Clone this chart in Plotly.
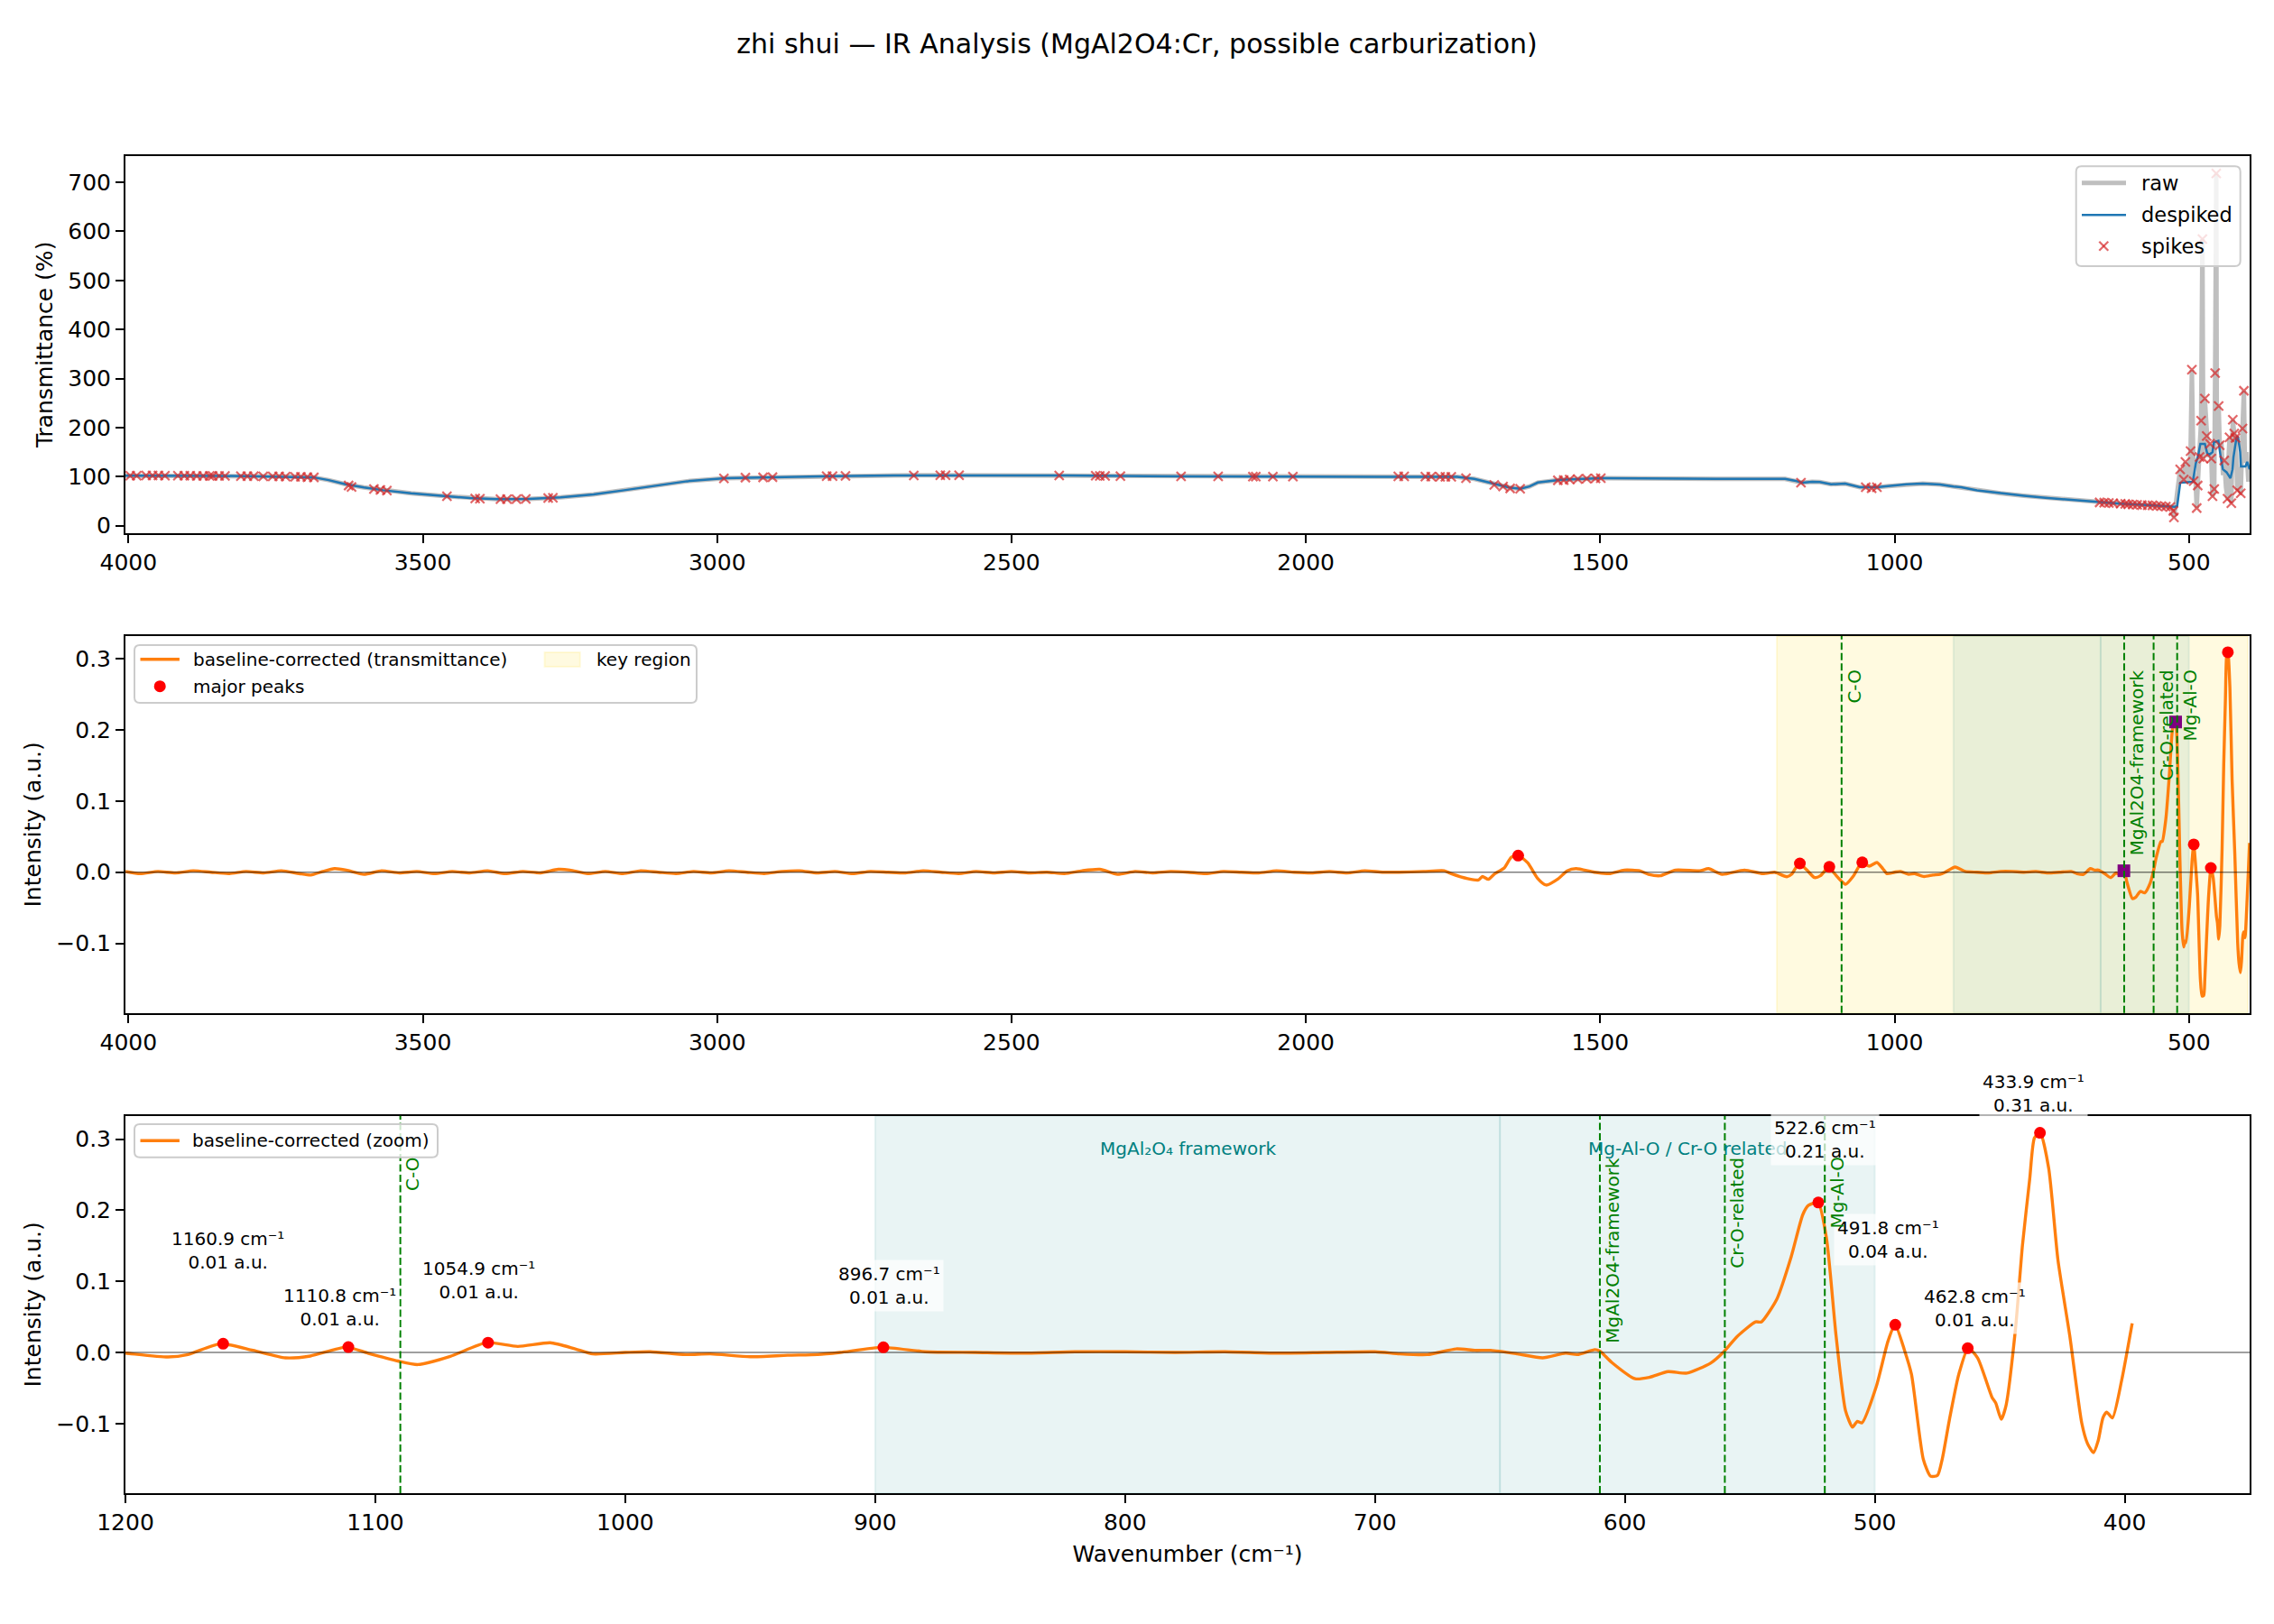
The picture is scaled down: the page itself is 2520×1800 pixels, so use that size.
import plotly.graph_objects as go

# ------------------------------------------------------------------ data
# Top panel: despiked transmittance (%)
despiked_wn = [4005, 4000, 3950, 3900, 3850, 3800, 3750, 3700, 3685, 3660,
               3631, 3600, 3567, 3520, 3459, 3420, 3373, 3320, 3266, 3210,
               3158, 3100, 3051, 2986, 2900, 2803, 2700, 2620, 2500, 2405,
               2333, 2200, 2027, 1900, 1800, 1743, 1714, 1690, 1675, 1655,
               1636, 1620, 1606, 1580, 1567, 1499, 1401, 1303, 1186, 1170,
               1157, 1140, 1127, 1108, 1084, 1059, 1030, 1010, 980, 952,
               923, 900, 887, 860, 820, 780, 744, 700, 657, 616,
               565, 530,
               524, 520, 517, 514.8, 493.4, 488.3, 484, 480.6, 472.9, 469,
               465.3, 460, 457.6, 450, 446, 442.3, 436.1, 429.5, 426, 424.4,
               419.3, 416.7, 413, 411.6, 404, 401, 397]
despiked_val = [102, 102, 102.5, 102, 101.5, 101, 100.5, 99.5, 98.5, 93,
                84.5, 78, 72.3, 66, 60, 56.5, 54, 54.5, 58, 64,
                72.3, 82, 90.7, 96.8, 99, 101, 102.5, 103, 102.5, 102.5,
                101.5, 100.5, 100, 100, 100, 99.5, 95.6, 88, 84.5, 78,
                75.3, 80, 88, 92, 93.7, 96.8, 95.6, 95.6, 95.6, 92,
                87.6, 89.5, 89, 84.5, 85.7, 78.4, 78.4, 81, 84.5, 85.7,
                84, 80, 78.4, 72, 66, 61, 57, 52.5, 47.8, 44.8,
                41.7, 39,
                38.6, 40, 70, 87.6, 89.6, 127, 145, 167, 167, 148,
                145, 150, 170, 173, 140, 115, 109, 96.8, 115, 139.6,
                179, 182, 150, 121, 121, 130, 115]

# Raw signal below 530 cm-1 (above 530 the raw trace equals the despiked one)
raw_tail_wn = [527.5, 525.5, 523, 520, 517, 514.9, 512, 508.8, 506, 503,
               500, 497.2, 495, 492, 489, 486.8, 485.1, 482, 479.3, 477.1,
               475.6, 473, 469.8, 467, 464.1, 462, 460, 457, 455.5, 453.6,
               452.6, 449.5, 447.7, 445, 442, 440, 437, 434.5, 433.4, 431,
               428, 425.5, 423, 421, 419.5, 418, 415, 412, 409, 406.6,
               405, 402, 399, 397]
raw_tail_val = [36, 17, 38, 62, 88, 115, 90, 94, 130, 88,
                96, 152, 318, 91, 100, 36, 82, 140, 214, 584,
                137, 259, 183, 140, 167, 137, 60, 75, 311, 718,
                170, 244, 164, 171, 103, 133, 78, 55, 120, 180,
                46, 216, 188, 179, 140, 72, 119, 66, 198, 275,
                128, 150, 90, 127]

# Flagged spikes
spike_wn = [3997, 3986, 3970, 3959, 3949, 3938, 3916, 3905, 3895, 3884,
            3873, 3862, 3857, 3846, 3836, 3809, 3798, 3787, 3771, 3755,
            3744, 3733, 3717, 3707, 3696, 3685,
            3626, 3621, 3583, 3572, 3561, 3459, 3411, 3403, 3368, 3357,
            3341, 3325, 3287, 3279,
            2988.5, 2952, 2922, 2906, 2814, 2804, 2782, 2666, 2621, 2612,
            2589, 2419, 2357, 2350, 2341, 2315, 2212, 2149, 2090, 2085,
            2056, 2022,
            1843, 1833, 1797, 1787, 1772, 1763, 1753, 1728, 1680, 1665,
            1653, 1636, 1572, 1562, 1552, 1538, 1523, 1508, 1499, 1159,
            1049, 1039, 1030,
            651.7, 644, 636, 628.7, 616, 608.3, 603, 595.5, 588, 580,
            570, 562, 554.6, 547, 539.3, 531.7, 526.5,
            525.5, 514.9, 508.8, 506, 497.2, 495, 492, 486.8, 485.1, 482,
            479.3, 477.1, 475.6, 473, 469.8, 464.1, 462, 460, 457, 455.5,
            453.6, 449.5, 447.7, 440, 434.5, 431, 428, 425.5, 423, 421,
            418, 412, 409, 406.6]
spike_val = [102, 102, 102.5, 102.5, 102.5, 102, 102, 102, 102, 101.5,
             101.5, 101.5, 101.5, 101.5, 101.5, 101, 101, 101, 100.5, 100.5,
             100.5, 100, 99.5, 99.5, 99, 98.5,
             82, 79, 75, 73, 71.5, 60, 55.5, 55, 54, 54,
             54, 54.5, 56.5, 57,
             96.5, 98, 98.5, 99, 101, 101, 101.5, 102.5, 103, 103,
             103, 102.5, 102, 101.5, 101.5, 101, 100.5, 100.5, 100, 100,
             100, 100,
             100.5, 100.5, 100, 100, 99.5, 99.5, 99.5, 97, 83, 80,
             76, 75.3, 92.5, 93, 94, 95, 96, 96.5, 96.8, 87.6,
             78.4, 76.5, 78.4,
             47.5, 47, 46.5, 46, 44.8, 44.5, 43.5, 43, 42.5, 42,
             41.7, 41.5, 40.5, 40, 39, 38, 30,
             17, 115, 94, 130, 152, 318, 91, 36, 82, 140,
             214, 584, 137, 259, 183, 167, 137, 60, 75, 311,
             718, 244, 164, 133, 55, 180, 46, 216, 188, 179,
             72, 66, 198, 275]

# Baseline-corrected spectrum (a.u.)
bc_wn_high = [4005, 3980, 3950, 3920, 3890, 3860, 3830, 3800, 3770, 3740,
              3710, 3690, 3670, 3650, 3630, 3600, 3570, 3540, 3510, 3480,
              3450, 3420, 3390, 3360, 3330, 3300, 3270, 3250, 3220, 3190,
              3160, 3130, 3100, 3070, 3040, 3010, 2980, 2950, 2920, 2890,
              2860, 2830, 2800, 2770, 2740, 2710, 2680, 2650, 2620, 2590,
              2560, 2530, 2500, 2470, 2440, 2410, 2380, 2350, 2320, 2290,
              2260, 2230, 2200, 2170, 2140, 2110, 2080, 2050, 2020, 1990,
              1960, 1930, 1900, 1870, 1842, 1800, 1765, 1753, 1725, 1707,
              1700, 1690, 1679, 1663, 1651, 1639, 1623, 1607, 1592, 1571,
              1556, 1541, 1510, 1485, 1459, 1433, 1418, 1398, 1372, 1331,
              1316, 1293, 1255, 1224, 1204]
bc_val_high = [0.001, -0.002, 0.001, -0.001, 0.002, 0.000, -0.002, 0.001, -0.001, 0.002,
               -0.002, -0.004, 0.001, 0.005, 0.003, -0.003, 0.002, -0.001, 0.001, -0.002,
               0.001, -0.001, 0.002, -0.002, 0.001, -0.001, 0.004, 0.003, -0.002, 0.001,
               -0.002, 0.002, 0.000, -0.002, 0.001, -0.001, 0.002, 0.000, -0.002, 0.001,
               0.002, -0.001, 0.001, -0.002, 0.001, 0.000, -0.001, 0.002, 0.000, -0.002,
               0.001, -0.001, 0.001, -0.001, 0.000, -0.002, 0.002, 0.004, -0.003, 0.001,
               -0.001, 0.001, 0.000, -0.002, 0.001, 0.000, -0.001, 0.002, 0.000, -0.001,
               0.001, -0.001, 0.002, 0.000, 0.000, 0.001, 0.002, -0.002, -0.009, -0.011,
               -0.006, -0.010, -0.002, 0.006, 0.021, 0.0233, 0.013, -0.008, -0.018, -0.009,
               0.002, 0.005, 0.000, -0.002, 0.003, 0.002, -0.003, -0.005, 0.003, 0.002,
               0.005, -0.003, 0.003, -0.002, 0.000]
bc_wn_low = [1200, 1183, 1175, 1162, 1149, 1136, 1126, 1111.5, 1103, 1091,
             1083, 1070, 1055.5, 1043, 1030, 1020, 1013, 1000, 990, 976,
             966, 950, 935, 923, 914, 897, 880, 860, 840, 820,
             800, 780, 760, 740, 720, 700, 690, 679, 667.5, 660,
             653.7, 643, 632.9, 623.7, 619, 612, 610, 605.3, 595.9, 590.2,
             582.7, 575.1, 565.7, 560.4, 555.2, 547.7, 545.4, 539.2, 533.5, 528.8,
             526.5, 522.7, 519.3, 515.5, 511.7, 508.9, 507, 505.1, 499.4, 494.7,
             491.9, 488.1, 485.3, 480.6, 477.7, 474.9, 473, 470.1, 466.4, 462.6,
             458.8, 453.1, 451.6, 449.4, 447.5, 443.7, 440.9, 438, 436.1, 433.8,
             430.4, 426.7, 422, 417.2, 414.9, 412.5, 410.6, 408.7, 407.2, 404.9,
             401.2, 397]
bc_val_low = [-0.001, -0.0064, -0.003, 0.0123, 0.003, -0.0076, -0.005, 0.0075, -0.001, -0.012,
              -0.017, -0.0055, 0.0138, 0.0085, 0.0136, 0.005, -0.002, 0.000, 0.001, -0.003,
              -0.002, -0.006, -0.004, -0.003, 0.000, 0.0072, 0.001, 0.000, -0.001, 0.001,
              0.001, 0.000, 0.001, -0.001, 0.000, 0.001, -0.002, -0.003, 0.005, 0.003,
              0.003, -0.002, -0.0076, -0.001, -0.003, 0.004, 0.002, -0.014, -0.037, -0.035,
              -0.027, -0.029, -0.015, 0.001, 0.022, 0.043, 0.043, 0.075, 0.134, 0.194,
              0.207, 0.211, 0.16, 0.024, -0.082, -0.105, -0.097, -0.099, -0.048, 0.016,
              0.039, 0.003, -0.031, -0.15, -0.174, -0.173, -0.15, -0.094, -0.031, 0.006,
              -0.008, -0.063, -0.071, -0.094, -0.075, 0.033, 0.151, 0.244, 0.302, 0.309,
              0.259, 0.13, 0.024, -0.099, -0.128, -0.141, -0.124, -0.092, -0.084, -0.092,
              -0.039, 0.041]

major_wn = [1639.4, 1160.9, 1110.8, 1054.9, 491.8, 462.8, 433.9]
major_val = [0.0233, 0.0123, 0.0075, 0.0138, 0.039, 0.006, 0.309]
matched_wn = [610.5, 522.6]
matched_val = [0.002, 0.211]
labeled_wn = [1160.9, 1110.8, 1054.9, 896.7, 522.6, 491.8, 462.8, 433.9]
labeled_val = [0.0123, 0.0075, 0.0138, 0.0072, 0.211, 0.039, 0.006, 0.309]

ref_wn = [1090, 610, 560, 520]
ref_names = ["C-O", "MgAl2O4-framework", "Cr-O-related", "Mg-Al-O"]
key_region = (1200, 400)
band_edges = [(900, 650), (650, 500)]
band_names = ["MgAl\u2082O\u2084 framework", "Mg-Al-O / Cr-O related"]

x_top_ticks = [4000, 3500, 3000, 2500, 2000, 1500, 1000, 500]
x_zoom_ticks = [1200, 1100, 1000, 900, 800, 700, 600, 500, 400]
y_top_ticks = [0, 100, 200, 300, 400, 500, 600, 700]
y_int_ticks = [-0.1, 0.0, 0.1, 0.2, 0.3]

assert len(despiked_wn) == len(despiked_val)
assert len(raw_tail_wn) == len(raw_tail_val)
assert len(spike_wn) == len(spike_val)
assert len(bc_wn_high) == len(bc_val_high)
assert len(bc_wn_low) == len(bc_val_low)

n_common = despiked_wn.index(530) + 1
raw_wn = despiked_wn[:n_common] + raw_tail_wn
raw_val = despiked_val[:n_common] + raw_tail_val
bc_wn = bc_wn_high + bc_wn_low
bc_val = bc_val_high + bc_val_low

# ------------------------------------------------------------------ style / geometry
FONT = "DejaVu Sans, Verdana, sans-serif"
L_PX, R_PX, T_PX, B_PX = 139, 2493, 173, 1655
CM1 = "cm\u207b\u00b9"


def PX(x):
    return (x - L_PX) / (R_PX - L_PX)


def PY(y):
    return (B_PX - y) / (B_PX - T_PX)


TOP_RANGE_X = [4005.1, 396.9]
ZOOM_RANGE_X = [1200, 350]

ORANGE = "#ff7f0e"
BLUE = "#1f77b4"
SPIKE_C = "rgba(214,39,40,0.7)"
RAW_C = "rgba(128,128,128,0.5)"
KEY_C = "rgba(255,215,0,0.12)"
TEAL_C = "rgba(0,128,128,0.085)"
ZERO_C = "rgba(0,0,0,0.5)"

fig = go.Figure()

# ---- top panel
fig.add_trace(go.Scatter(x=raw_wn, y=raw_val, mode="lines", name="raw",
                         line=dict(color=RAW_C, width=5), xaxis="x", yaxis="y"))
fig.add_trace(go.Scatter(x=despiked_wn, y=despiked_val, mode="lines", name="despiked",
                         line=dict(color=BLUE, width=2.5), xaxis="x", yaxis="y"))
fig.add_trace(go.Scatter(x=spike_wn, y=spike_val, mode="markers", name="spikes",
                         marker=dict(symbol="x-thin", size=10,
                                     line=dict(width=2.2, color=SPIKE_C)),
                         xaxis="x", yaxis="y"))

# ---- middle panel
fig.add_trace(go.Scatter(x=bc_wn, y=bc_val, mode="lines",
                         name="baseline-corrected (transmittance)",
                         line=dict(color=ORANGE, width=3.4, shape="spline", smoothing=0.6),
                         xaxis="x2", yaxis="y2"))
fig.add_trace(go.Scatter(x=TOP_RANGE_X, y=[0, 0], mode="lines", hoverinfo="skip",
                         line=dict(color=ZERO_C, width=1.6), xaxis="x2", yaxis="y2"))
fig.add_trace(go.Scatter(x=major_wn, y=major_val, mode="markers", name="major peaks",
                         marker=dict(color="red", size=13), xaxis="x2", yaxis="y2"))
fig.add_trace(go.Scatter(x=matched_wn, y=matched_val, mode="markers",
                         marker=dict(color="purple", size=14, symbol="square"),
                         xaxis="x2", yaxis="y2"))

# ---- bottom panel
fig.add_trace(go.Scatter(x=bc_wn, y=bc_val, mode="lines", name="baseline-corrected (zoom)",
                         line=dict(color=ORANGE, width=3.4, shape="spline", smoothing=0.6),
                         xaxis="x3", yaxis="y3"))
fig.add_trace(go.Scatter(x=ZOOM_RANGE_X, y=[0, 0], mode="lines", hoverinfo="skip",
                         line=dict(color=ZERO_C, width=1.6), xaxis="x3", yaxis="y3"))
fig.add_trace(go.Scatter(x=labeled_wn, y=labeled_val, mode="markers",
                         marker=dict(color="red", size=13), xaxis="x3", yaxis="y3"))

shapes = []
annotations = []

# shaded regions
shapes.append(dict(type="rect", xref="x2", yref="y2 domain", x0=key_region[0], x1=key_region[1],
                   y0=0, y1=1, fillcolor=KEY_C, line=dict(color=KEY_C, width=2), layer="below"))
for ax in ["2", "3"]:
    for (a, b) in band_edges:
        shapes.append(dict(type="rect", xref="x" + ax, yref="y" + ax + " domain", x0=a, x1=b,
                           y0=0, y1=1, fillcolor=TEAL_C, line=dict(color=TEAL_C, width=2),
                           layer="below"))

# band labels (bottom)
for (a, b), name in zip(band_edges, band_names):
    annotations.append(dict(x=(a + b) / 2, y=0.913, xref="x3", yref="y3 domain", text=name,
                            showarrow=False, xanchor="center", yanchor="middle",
                            font=dict(size=20, color="teal", family=FONT)))

# peak labels (bottom)
label_dx = [5, -10, -10, 7, 7, -8, 8, -7]
label_dy = [103, 44, 69, 68, 70, 94, 44, 44]
for w, v, dx, dy in zip(labeled_wn, labeled_val, label_dx, label_dy):
    annotations.append(dict(x=w, y=v, xref="x3", yref="y3",
                            text=f"{w:.1f} {CM1}<br>{v:.2f} a.u.",
                            showarrow=False, xshift=dx, yshift=dy,
                            xanchor="center", yanchor="middle",
                            bgcolor="rgba(255,255,255,0.7)", borderpad=3,
                            font=dict(size=20, color="black", family=FONT)))

# reference lines + rotated labels (drawn on top of the peak labels)
label_top = {"2": 0.287, "3": 0.277}
for ax in ["2", "3"]:
    for w, name in zip(ref_wn, ref_names):
        shapes.append(dict(type="line", xref="x" + ax, yref="y" + ax + " domain", x0=w, x1=w,
                           y0=0, y1=1, line=dict(color="green", width=2, dash="8px,3.5px"),
                           layer="above"))
        annotations.append(dict(x=w, y=label_top[ax], xref="x" + ax, yref="y" + ax,
                                text=name, showarrow=False, textangle=-90,
                                xanchor="left", yanchor="top",
                                font=dict(size=20, color="green", family=FONT)))


# ---- manual legends
def rounded_box(x0, y0, x1, y1, r=6):
    p = (f"M {PX(x0 + r)},{PY(y0)} L {PX(x1 - r)},{PY(y0)} "
         f"Q {PX(x1)},{PY(y0)} {PX(x1)},{PY(y0 + r)} L {PX(x1)},{PY(y1 - r)} "
         f"Q {PX(x1)},{PY(y1)} {PX(x1 - r)},{PY(y1)} L {PX(x0 + r)},{PY(y1)} "
         f"Q {PX(x0)},{PY(y1)} {PX(x0)},{PY(y1 - r)} L {PX(x0)},{PY(y0 + r)} "
         f"Q {PX(x0)},{PY(y0)} {PX(x0 + r)},{PY(y0)} Z")
    return dict(type="path", xref="paper", yref="paper", path=p,
                fillcolor="rgba(255,255,255,0.8)", line=dict(color="#cccccc", width=2),
                layer="above")


def hline(x0, x1, y, color, width):
    return dict(type="line", xref="paper", yref="paper", x0=PX(x0), x1=PX(x1),
                y0=PY(y), y1=PY(y), line=dict(color=color, width=width), layer="above")


def legend_text(x, y, text, size):
    return dict(x=PX(x), y=PY(y), xref="paper", yref="paper", text=text, showarrow=False,
                xanchor="left", yanchor="middle",
                font=dict(size=size, color="black", family=FONT))


# top legend
shapes.append(rounded_box(2300.7, 184.3, 2482.7, 295))
shapes.append(hline(2307, 2356, 202.7, RAW_C, 5))
shapes.append(hline(2307, 2356, 238.3, BLUE, 2.5))
cx, cy, hs = 2331.3, 272.7, 5
shapes.append(dict(type="line", xref="paper", yref="paper", x0=PX(cx - hs), x1=PX(cx + hs),
                   y0=PY(cy - hs), y1=PY(cy + hs), line=dict(color=SPIKE_C, width=2.2), layer="above"))
shapes.append(dict(type="line", xref="paper", yref="paper", x0=PX(cx - hs), x1=PX(cx + hs),
                   y0=PY(cy + hs), y1=PY(cy - hs), line=dict(color=SPIKE_C, width=2.2), layer="above"))
annotations.append(legend_text(2371, 202.7, "raw", 22.5))
annotations.append(legend_text(2371, 238.3, "despiked", 22.5))
annotations.append(legend_text(2371, 272.7, "spikes", 22.5))

# middle legend
shapes.append(rounded_box(149, 715, 772, 779))
shapes.append(hline(155.5, 198.9, 730.7, ORANGE, 3.4))
shapes.append(dict(type="circle", xref="paper", yref="paper", x0=PX(170.7), x1=PX(183.7),
                   y0=PY(767.2), y1=PY(754.2), fillcolor="red", line=dict(width=0), layer="above"))
shapes.append(dict(type="rect", xref="paper", yref="paper", x0=PX(603.5), x1=PX(642.8),
                   y0=PY(739), y1=PY(723), fillcolor=KEY_C, line=dict(color=KEY_C, width=2),
                   layer="above"))
annotations.append(legend_text(212, 730.7, "baseline-corrected (transmittance)", 20))
annotations.append(legend_text(212, 760.7, "major peaks", 20))
annotations.append(legend_text(658.6, 730.7, "key region", 20))

# bottom legend
shapes.append(rounded_box(149, 1246, 485, 1282.7))
shapes.append(hline(155.5, 198.9, 1264.3, ORANGE, 3.4))
annotations.append(legend_text(211, 1264.3, "baseline-corrected (zoom)", 20))

# ------------------------------------------------------------------ axes
axis_common = dict(showline=True, linecolor="black", linewidth=2, mirror=True,
                   ticks="outside", ticklen=9, tickwidth=2, tickcolor="black",
                   tickfont=dict(size=25, color="black", family=FONT),
                   showgrid=False, zeroline=False, automargin=False)
title_font = dict(size=25, color="black", family=FONT)

top_dom = [PY(590.7), 1.0]
mid_dom = [PY(1122.7), PY(705)]
bot_dom = [0.0, PY(1236.7)]

fig.update_layout(
    width=2520, height=1800,
    margin=dict(l=L_PX, r=2520 - R_PX, t=T_PX, b=1800 - B_PX),
    paper_bgcolor="white", plot_bgcolor="white",
    font=dict(family=FONT, color="black", size=20),
    showlegend=False,
    title=dict(text="zhi shui \u2014 IR Analysis (MgAl2O4:Cr, possible carburization)",
               x=0.5, xref="container", xanchor="center",
               y=1 - 48 / 1800, yref="container", yanchor="middle",
               font=dict(size=30, color="black", family=FONT)),
    xaxis=dict(axis_common, domain=[0, 1], anchor="y", range=TOP_RANGE_X,
               tickvals=x_top_ticks),
    yaxis=dict(axis_common, domain=top_dom, anchor="x", range=[-14.7, 753.3],
               tickvals=y_top_ticks,
               title=dict(text="Transmittance (%)", font=title_font, standoff=10)),
    xaxis2=dict(axis_common, domain=[0, 1], anchor="y2", range=TOP_RANGE_X,
                tickvals=x_top_ticks),
    yaxis2=dict(axis_common, domain=mid_dom, anchor="x2", range=[-0.1977, 0.3317],
                tickvals=y_int_ticks, tickformat=".1f",
                title=dict(text="Intensity (a.u.)", font=title_font, standoff=10)),
    xaxis3=dict(axis_common, domain=[0, 1], anchor="y3", range=ZOOM_RANGE_X,
                tickvals=x_zoom_ticks,
                title=dict(text=f"Wavenumber ({CM1})", font=title_font, standoff=12)),
    yaxis3=dict(axis_common, domain=bot_dom, anchor="x3", range=[-0.198, 0.333],
                tickvals=y_int_ticks, tickformat=".1f",
                title=dict(text="Intensity (a.u.)", font=title_font, standoff=10)),
    shapes=shapes,
    annotations=annotations,
)

fig.write_html("out.html")
